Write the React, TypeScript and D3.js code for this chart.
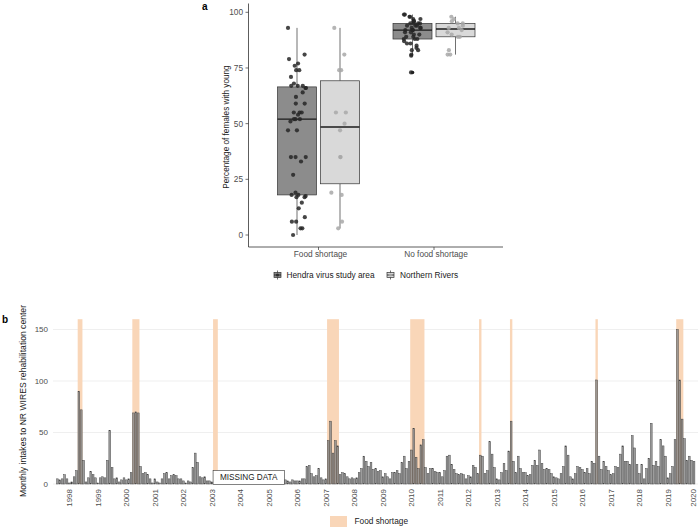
import React from "react";
import * as d3 from "d3";

// ---------- Panel a data ----------
const categories = ["Food shortage", "No food shortage"];
const groups = ["Hendra virus study area", "Northern Rivers"];
const hendraFood = [93, 81, 79, 77, 76, 74, 74, 71, 68, 67, 66, 67, 67, 66, 64, 62, 59, 59, 55, 55, 55, 54, 52, 52, 51, 52, 47, 47, 35, 35, 35, 33, 27, 19, 18, 18, 17.5, 17, 17, 14.5, 12, 8, 6, 6, 3, 3, 0];
const riversFood = [93, 81, 74, 74, 55, 55, 50, 47, 35, 35, 19, 18, 6, 3];
const hendraNoFood = [99, 99, 98, 98, 97, 97, 96, 96, 96, 95, 95, 95, 95, 94, 94, 94, 93, 93, 93, 92, 92, 92, 92, 91, 91, 90, 90, 89, 89, 88, 88, 88, 87, 86, 86, 85, 84, 83, 83, 81, 80.5, 73];
const riversNoFood = [98, 97, 96, 95, 95, 94, 93, 93, 92, 91, 90, 89, 89, 83, 81, 81];
const yTicksA = [0, 25, 50, 75, 100];

// ---------- Panel b data ----------
const seriesStart = "1997-08";
const intakes: (number | null)[] = [
  5, 4, 5, 9, 5, 1, 2, 7, 13, 90,
  72, 23, 2, 6, 12, 9, 6, 1, 6, 7,
  6, 23, 52, 16, 5, 6, 2, 4, 6, 4,
  5, 11, 69, 70, 69, 17, 10, 11, 9, 5,
  1, 5, 2, 1, 5, 10, 11, 5, 8, 9,
  8, 5, 5, 3, 1, 3, 2, 16, 30, 21,
  7, 6, 7, 3, 3, 2,
  null, null, null, null, null, null, null, null, null, null,
  null, null, null, null, null, null, null, null, null, null,
  null, null, null, null, null, null, null, null, null, null,
  4, 3, 2, 4, 3, 3, 3, 5, 5, 17,
  18, 10, 7, 8, 15, 6, 4, 5, 42, 61,
  30, 42, 37, 9, 11, 10, 7, 5, 6, 5,
  6, 11, 15, 27, 22, 17, 21, 14, 15, 12,
  13, 7, 10, 7, 5, 11, 11, 13, 10, 21,
  27, 15, 22, 33, 54, 26, 15, 38, 43, 16,
  10, 15, 15, 12, 11, 11, 7, 13, 27, 28,
  19, 14, 10, 9, 10, 9, 5, 8, 7, 18,
  16, 10, 28, 27, 10, 13, 41, 29, 16, 5,
  4, 11, 20, 13, 32, 61, 22, 11, 27, 15,
  11, 11, 8, 9, 18, 23, 18, 33, 20, 14,
  15, 14, 10, 7, 6, 5, 10, 17, 37, 28,
  7, 5, 10, 17, 16, 14, 11, 15, 10, 22,
  20, 101, 27, 14, 22, 17, 13, 9, 10, 17,
  16, 29, 37, 22, 22, 19, 47, 35, 19, 10,
  19, 5, 15, 25, 59, 18, 22, 17, 43, 37,
  27, 6, 10, 17, 43, 150, 101, 63, 44, 23,
  27, 23, 22,
];
const shortageStarts = ["1998-05", "2000-04", "2003-02", "2007-02", "2010-01", "2012-06", "2013-07", "2016-07", "2019-05"];
const shortageEnds = ["1998-06", "2000-06", "2003-03", "2007-06", "2010-06", "2012-06", "2013-07", "2016-07", "2019-07"];
const missingRange = ["2003-02", "2005-07"];
const missingLabel = "MISSING DATA";
const yearLabels = ["1998", "1999", "2000", "2001", "2002", "2003", "2004", "2005", "2006", "2007", "2008", "2009", "2010", "2011", "2012", "2013", "2014", "2015", "2016", "2017", "2018", "2019", "2020"];
const yTicksB = [0, 50, 100, 150];
const legendB = "Food shortage";

const FONT = "'Liberation Sans', Arial, Helvetica, sans-serif";

const monthIndex = (ym: string) => {
  const [y, m] = ym.split("-").map(Number);
  const [y0, m0] = seriesStart.split("-").map(Number);
  return (y - y0) * 12 + (m - m0);
};

const jitter = (i: number, k: number) => {
  const s = Math.sin(i * 12.9898 + k * 78.233) * 43758.5453;
  return s - Math.floor(s) - 0.5;
};

function boxStats(vals: number[]) {
  const s = [...vals].sort((a, b) => a - b);
  const q1 = d3.quantile(s, 0.25)!;
  const med = d3.quantile(s, 0.5)!;
  const q3 = d3.quantile(s, 0.75)!;
  const iqr = q3 - q1;
  const lo = d3.min(s.filter((v) => v >= q1 - 1.5 * iqr))!;
  const hi = d3.max(s.filter((v) => v <= q3 + 1.5 * iqr))!;
  const out = s.filter((v) => v < lo || v > hi);
  return { q1, med, q3, lo, hi, out };
}

export default function App() {
  // ---- Panel a scales ----
  const yA = d3.scaleLinear().domain([0, 100]).range([235, 12.3]);
  const xA = d3.scalePoint<string>().domain(categories).range([318.5, 434]);
  const dodge = d3.scalePoint<string>().domain(groups).range([-21.5, 21.5]);
  const boxW = 39;
  const fills = ["#8c8c8c", "#d9d9d9"];
  const ptFill = ["#262626", "#a8a8a8"];
  const sets = [
    { cat: categories[0], grp: groups[0], vals: hendraFood, gi: 0 },
    { cat: categories[0], grp: groups[1], vals: riversFood, gi: 1 },
    { cat: categories[1], grp: groups[0], vals: hendraNoFood, gi: 0 },
    { cat: categories[1], grp: groups[1], vals: riversNoFood, gi: 1 },
  ];

  // ---- Panel b scales ----
  const xB = d3.scaleLinear().domain([0, 269]).range([57.5, 696.4]);
  const step = xB(1) - xB(0);
  const yB = d3.scaleLinear().domain([0, 150]).range([484, 329.5]);
  const barW = 1.75;
  const bandColor = "#f9d6b8";

  return (
    <svg width={698} height={528} style={{ position: "absolute", left: 0, top: 0, background: "#fff" }} fontFamily={FONT}>
      <rect width={698} height={528} fill="#fff" />
      {/* ================= Panel a ================= */}
      <text x={202} y={10} fontSize={10} fontWeight="bold" fill="#000">a</text>
      <line x1={248.5} x2={248.5} y1={3.5} y2={247} stroke="#333" strokeWidth={0.8} />
      <line x1={248.5} x2={503} y1={247} y2={247} stroke="#333" strokeWidth={0.8} />
      {yTicksA.map((t) => (
        <g key={t}>
          <line x1={245.5} x2={248.5} y1={yA(t)} y2={yA(t)} stroke="#333" strokeWidth={0.7} />
          <text x={243} y={yA(t)} dy="0.35em" fontSize={8.3} textAnchor="end" fill="#4d4d4d">{t}</text>
        </g>
      ))}
      {categories.map((c) => (
        <g key={c}>
          <line x1={xA(c)} x2={xA(c)} y1={247} y2={250} stroke="#333" strokeWidth={0.7} />
          <text x={xA(c)! + 2} y={256.5} fontSize={8.3} textAnchor="middle" fill="#4d4d4d">{c}</text>
        </g>
      ))}
      <text transform={`translate(226,127) rotate(-90)`} fontSize={8.2} textAnchor="middle" dy="0.35em" fill="#1a1a1a">
        Percentage of females with young
      </text>
      {sets.map((s, si) => {
        const st = boxStats(s.vals);
        const cx = xA(s.cat)! + dodge(s.grp)!;
        return (
          <g key={si}>
            <line x1={cx} x2={cx} y1={yA(st.hi)} y2={yA(st.q3)} stroke="#333" strokeWidth={0.7} />
            <line x1={cx} x2={cx} y1={yA(st.q1)} y2={yA(st.lo)} stroke="#333" strokeWidth={0.7} />
            <rect x={cx - boxW / 2} y={yA(st.q3)} width={boxW} height={yA(st.q1) - yA(st.q3)} fill={fills[s.gi]} stroke="#333" strokeWidth={0.7} />
            <line x1={cx - boxW / 2} x2={cx + boxW / 2} y1={yA(st.med)} y2={yA(st.med)} stroke="#1a1a1a" strokeWidth={1.3} />
            {st.out.map((v, i) => (
              <circle key={"o" + i} cx={cx} cy={yA(v)} r={1.8} fill="#1a1a1a" />
            ))}
          </g>
        );
      })}
      {sets.map((s, si) => {
        const cx = xA(s.cat)! + dodge(s.grp)!;
        return (
          <g key={"p" + si}>
            {s.vals.map((v, i) => (
              <circle key={i} cx={cx + jitter(i, si) * 18} cy={yA(v)} r={2.1} fill={ptFill[s.gi]} fillOpacity={0.85} />
            ))}
          </g>
        );
      })}
      {groups.map((g, gi) => {
        const kx = gi === 0 ? 277.5 : 390.5;
        const tx = gi === 0 ? 286.5 : 400;
        return (
          <g key={g}>
            <line x1={kx} x2={kx} y1={270.5} y2={279.5} stroke="#333" strokeWidth={0.7} />
            <rect x={kx - 3.5} y={272.5} width={7} height={5} fill={fills[gi]} stroke="#333" strokeWidth={0.7} />
            <line x1={kx - 3.5} x2={kx + 3.5} y1={275} y2={275} stroke="#1a1a1a" strokeWidth={0.8} />
            <circle cx={kx} cy={275} r={1.6} fill={ptFill[gi]} fillOpacity={0.85} />
            <text x={tx} y={275} dy="0.35em" fontSize={8.3} fill="#1a1a1a">{g}</text>
          </g>
        );
      })}

      {/* ================= Panel b ================= */}
      <text x={2} y={323} fontSize={10} fontWeight="bold" fill="#000">b</text>
      {yTicksB.map((t) => (
        <g key={t}>
          <line x1={53} x2={698} y1={yB(t)} y2={yB(t)} stroke="#ebebeb" strokeWidth={0.8} />
          <text x={48} y={yB(t)} dy="0.35em" fontSize={8} textAnchor="end" fill="#4d4d4d">{t}</text>
        </g>
      ))}
      <text transform={`translate(22.5,401) rotate(-90)`} fontSize={8.6} textAnchor="middle" dy="0.35em" fill="#1a1a1a">
        Monthly intakes to NR WIRES rehabilitation center
      </text>
      {shortageStarts.map((s, i) => {
        const a = monthIndex(s);
        const b = monthIndex(shortageEnds[i]);
        return (
          <rect key={s} x={xB(a) - step / 2} width={xB(b) - xB(a) + step} y={yB(160)} height={yB(0) - yB(160)} fill={bandColor} />
        );
      })}
      {intakes.map((v, i) =>
        v === null ? null : (
          <rect key={i} x={xB(i) - barW / 2} width={barW} y={yB(v)} height={Math.max(0.01, yB(0) - yB(v))}
            fill="#8c8c8c" fillOpacity={0.85} stroke="#3d3d3d" strokeWidth={0.45} />
        )
      )}
      {(() => {
        const a = monthIndex(missingRange[0]);
        const b = monthIndex(missingRange[1]);
        const x0 = xB(a) - step / 2;
        const x1 = xB(b) + step / 2;
        return (
          <g>
            <rect x={x0} y={470.5} width={x1 - x0} height={14} fill="#fff" stroke="#333" strokeWidth={0.6} />
            <text x={(x0 + x1) / 2} y={477.5} dy="0.35em" fontSize={8.2} textAnchor="middle" fill="#1a1a1a">{missingLabel}</text>
          </g>
        );
      })()}
      {yearLabels.map((y) => {
        const xi = Math.min(xB(monthIndex(y + "-01")), 693);
        return (
          <text key={y} transform={`translate(${xi},489) rotate(-90)`} fontSize={8} textAnchor="end" dy="0.35em" fill="#4d4d4d">{y}</text>
        );
      })}
      <rect x={330} y={516} width={17} height={11} fill={bandColor} />
      <text x={354.5} y={521.5} dy="0.35em" fontSize={8.3} fill="#1a1a1a">{legendB}</text>
    </svg>
  );
}
